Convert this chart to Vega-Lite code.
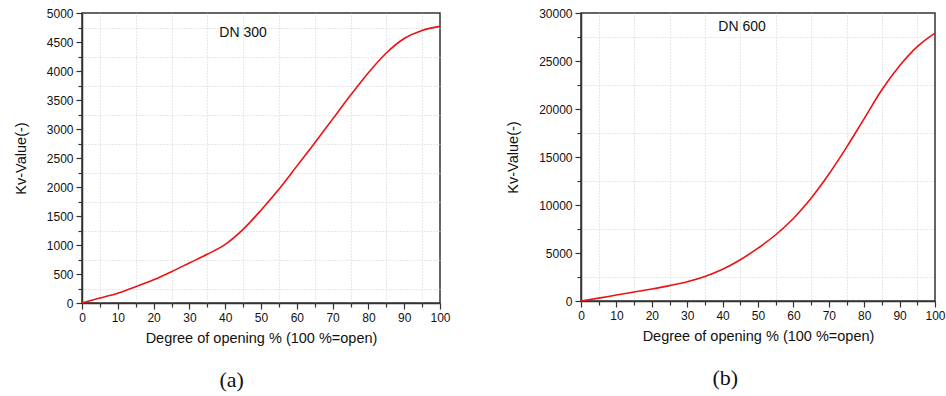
{
  "$schema": "https://vega.github.io/schema/vega-lite/v6.json",
  "background": "white",
  "padding": {"left": 12, "top": 6, "right": 3, "bottom": 3},
  "config": {
    "view": {"stroke": "#333", "strokeWidth": 1.5},
    "font": "Liberation Sans",
    "axis": {
      "labelFont": "Liberation Sans",
      "titleFont": "Liberation Sans",
      "labelFontSize": 12,
      "titleFontSize": 14.5,
      "titleFontWeight": "normal",
      "labelColor": "#111",
      "titleColor": "#111",
      "domainColor": "#333",
      "domainWidth": 1.5,
      "tickColor": "#333",
      "tickWidth": 1.2,
      "labelOverlap": false,
      "labelFlush": false
    },
    "title": {"font": "Liberation Serif", "fontSize": 22, "fontWeight": "normal", "color": "#111"}
  },
  "datasets": {
    "dn300": [
      {"opening": 0, "kv": 0},
      {"opening": 5, "kv": 85},
      {"opening": 10, "kv": 170},
      {"opening": 15, "kv": 280},
      {"opening": 20, "kv": 400},
      {"opening": 25, "kv": 540},
      {"opening": 30, "kv": 690},
      {"opening": 35, "kv": 840},
      {"opening": 40, "kv": 1010},
      {"opening": 45, "kv": 1270},
      {"opening": 50, "kv": 1600},
      {"opening": 55, "kv": 1960},
      {"opening": 60, "kv": 2360},
      {"opening": 65, "kv": 2760},
      {"opening": 70, "kv": 3170},
      {"opening": 75, "kv": 3580},
      {"opening": 80, "kv": 3970},
      {"opening": 85, "kv": 4310},
      {"opening": 90, "kv": 4560},
      {"opening": 95, "kv": 4700},
      {"opening": 100, "kv": 4770}
    ],
    "dn600": [
      {"opening": 0, "kv": 0},
      {"opening": 5, "kv": 300},
      {"opening": 10, "kv": 620},
      {"opening": 15, "kv": 930},
      {"opening": 20, "kv": 1250},
      {"opening": 25, "kv": 1600},
      {"opening": 30, "kv": 2000},
      {"opening": 35, "kv": 2550},
      {"opening": 40, "kv": 3300},
      {"opening": 45, "kv": 4300},
      {"opening": 50, "kv": 5500},
      {"opening": 55, "kv": 6900},
      {"opening": 60, "kv": 8600},
      {"opening": 65, "kv": 10700},
      {"opening": 70, "kv": 13200},
      {"opening": 75, "kv": 16000},
      {"opening": 80, "kv": 19000},
      {"opening": 85, "kv": 22000},
      {"opening": 90, "kv": 24500},
      {"opening": 95, "kv": 26500},
      {"opening": 100, "kv": 27900}
    ],
    "lab300": [{"opening": 45, "kv": 4650, "label": "DN 300"}],
    "lab600": [{"opening": 45.5, "kv": 28550, "label": "DN 600"}]
  },
  "hconcat": [
    {
      "width": 358,
      "height": 290,
      "title": {"text": "(a)", "orient": "bottom", "anchor": "middle", "frame": "bounds", "offset": 25},
      "resolve": {"axis": {"x": "independent", "y": "independent"}},
      "layer": [
        {
          "data": {"name": "dn300"},
          "mark": {"type": "line", "color": "#ee1111", "strokeWidth": 1.6, "interpolate": "monotone"},
          "encoding": {
            "x": {
              "field": "opening", "type": "quantitative",
              "scale": {"domain": [0, 100], "nice": false},
              "axis": {
                "orient": "bottom", "title": null, "labels": false, "domain": false,
                "values": [5,15,25,35,45,55,65,75,85,95],
                "tickSize": 4,
                "gridColor": "#cfcfcf", "gridDash": [1, 2], "gridWidth": 1
              }
            },
            "y": {
              "field": "kv", "type": "quantitative",
              "scale": {"domain": [0, 5000], "nice": false},
              "axis": {
                "orient": "left", "title": null, "labels": false, "domain": false,
                "values": [250,750,1250,1750,2250,2750,3250,3750,4250,4750],
                "tickSize": 4,
                "gridColor": "#cfcfcf", "gridDash": [1, 2], "gridWidth": 1
              }
            }
          }
        },
        {
          "data": {"name": "lab300"},
          "mark": {"type": "text", "fontSize": 14, "font": "Liberation Sans", "color": "#111"},
          "encoding": {
            "x": {
              "field": "opening", "type": "quantitative",
              "axis": {
                "orient": "bottom",
                "title": "Degree of opening % (100 %=open)",
                "values": [0,10,20,30,40,50,60,70,80,90,100],
                "tickSize": 6,
                "gridColor": "#b8b8b8",
                "labelPadding": 3,
                "titlePadding": 8
              }
            },
            "y": {
              "field": "kv", "type": "quantitative",
              "axis": {
                "orient": "left",
                "title": "Kv-Value(-)",
                "values": [0,500,1000,1500,2000,2500,3000,3500,4000,4500,5000],
                "format": "d",
                "tickSize": 6,
                "gridColor": "#b8b8b8",
                "labelPadding": 3,
                "titlePadding": 18
              }
            },
            "text": {"field": "label"}
          }
        }
      ]
    },
    {
      "width": 354,
      "height": 288,
      "title": {"text": "(b)", "orient": "bottom", "anchor": "middle", "frame": "bounds", "offset": 25},
      "resolve": {"axis": {"x": "independent", "y": "independent"}},
      "layer": [
        {
          "data": {"name": "dn600"},
          "mark": {"type": "line", "color": "#ee1111", "strokeWidth": 1.6, "interpolate": "monotone"},
          "encoding": {
            "x": {
              "field": "opening", "type": "quantitative",
              "scale": {"domain": [0, 100], "nice": false},
              "axis": {
                "orient": "bottom", "title": null, "labels": false, "domain": false,
                "values": [5,15,25,35,45,55,65,75,85,95],
                "tickSize": 4,
                "gridColor": "#cfcfcf", "gridDash": [1, 2], "gridWidth": 1
              }
            },
            "y": {
              "field": "kv", "type": "quantitative",
              "scale": {"domain": [0, 30000], "nice": false},
              "axis": {
                "orient": "left", "title": null, "labels": false, "domain": false,
                "values": [2500,7500,12500,17500,22500,27500],
                "tickSize": 4,
                "gridColor": "#cfcfcf", "gridDash": [1, 2], "gridWidth": 1
              }
            }
          }
        },
        {
          "data": {"name": "lab600"},
          "mark": {"type": "text", "fontSize": 14, "font": "Liberation Sans", "color": "#111"},
          "encoding": {
            "x": {
              "field": "opening", "type": "quantitative",
              "axis": {
                "orient": "bottom",
                "title": "Degree of opening % (100 %=open)",
                "values": [0,10,20,30,40,50,60,70,80,90,100],
                "tickSize": 6,
                "gridColor": "#b8b8b8",
                "labelPadding": 3,
                "titlePadding": 8
              }
            },
            "y": {
              "field": "kv", "type": "quantitative",
              "axis": {
                "orient": "left",
                "title": "Kv-Value(-)",
                "values": [0,5000,10000,15000,20000,25000,30000],
                "format": "d",
                "tickSize": 6,
                "gridColor": "#b8b8b8",
                "labelPadding": 3,
                "titlePadding": 18
              }
            },
            "text": {"field": "label"}
          }
        }
      ]
    }
  ],
  "spacing": 53
}
